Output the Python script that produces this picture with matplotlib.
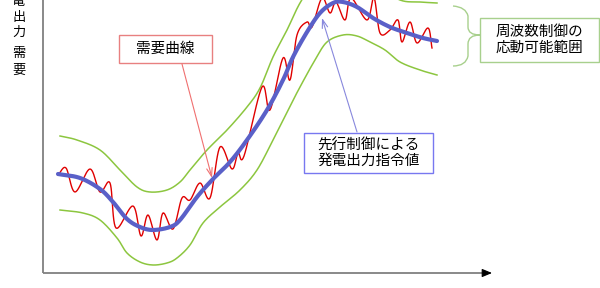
import numpy as np
import matplotlib
matplotlib.use("Agg")
import matplotlib.pyplot as plt
from matplotlib.patches import Rectangle, PathPatch
from matplotlib.path import Path

plt.rcParams['font.family'] = ['Noto Sans CJK JP', 'DejaVu Sans']

# ---- data (chart coordinates: x = time, y measured downward from top) ----
demand_x = [58, 66, 75, 90, 100, 110, 116, 133, 141, 148, 157, 163, 173, 182, 190,
            200, 210, 220, 232, 238, 244, 262, 270, 283, 290, 297, 307, 312, 322,
            330, 336, 345, 351, 367, 374, 380, 390, 398, 402, 410, 417, 428, 432]
demand_y = [175, 168, 192, 169, 192, 183, 228, 206, 236, 215, 240, 213, 229, 198, 200,
            183, 198, 147, 169, 153, 156, 87, 110, 58, 80, 35, 22, 27, -2,
            13, 2, 20, -2, 20, -2, 33, 30, 20, 42, 22, 43, 28, 48]

command_x = [58, 80, 100, 113, 127, 140, 153, 170, 180, 197, 213, 230, 247, 267,
             283, 293, 307, 320, 333, 343, 357, 373, 390, 407, 423, 437]
command_y = [174, 178, 189, 202, 219, 227, 230, 227, 220, 197, 179, 162, 140, 110,
             80, 57, 32, 13, 3, 2, 7, 18, 27, 33, 38, 41]

upper_x = [60, 77, 100, 120, 137, 150, 167, 180, 190, 207, 227, 247, 260, 273,
           287, 300, 315, 335, 355, 375, 400, 420, 437]
upper_y = [136, 140, 150, 170, 187, 192, 190, 182, 170, 150, 130, 107, 88, 57,
           30, 3, -18, -28, -27, -15, 0, 2, 3]

lower_x = [60, 83, 100, 117, 127, 140, 153, 167, 177, 190, 203, 220, 240, 257,
           273, 287, 300, 315, 327, 343, 357, 370, 385, 400, 420, 437]
lower_y = [210, 213, 220, 238, 253, 262, 265, 263, 258, 245, 223, 207, 190, 170,
           140, 112, 87, 60, 42, 35, 36, 42, 50, 62, 70, 75]

ylabel_chars = ['電', '出', '力', '需', '要']
demand_label = '需要曲線'
command_label = '先行制御による\n発電出力指令値'
range_label = '周波数制御の\n応動可能範囲'


def smooth(xs, ys, n=16):
    P = np.column_stack([xs, ys]).astype(float)
    P = np.vstack([2 * P[0] - P[1], P, 2 * P[-1] - P[-2]])
    out = []
    t = np.linspace(0, 1, n, endpoint=False)[:, None]
    for i in range(1, len(P) - 2):
        p0, p1, p2, p3 = P[i - 1], P[i], P[i + 1], P[i + 2]
        seg = 0.5 * ((2 * p1) + (-p0 + p2) * t + (2 * p0 - 5 * p1 + 4 * p2 - p3) * t ** 2
                     + (-p0 + 3 * p1 - 3 * p2 + p3) * t ** 3)
        out.append(seg)
    out.append(P[-2][None, :])
    out = np.vstack(out)
    return out[:, 0], out[:, 1]


fig = plt.figure(figsize=(6, 2.88), dpi=100)
ax = fig.add_axes([0, 0, 1, 1])
ax.set_xlim(0, 600)
ax.set_ylim(288, 0)
ax.axis('off')

# axes
ax.plot([43, 43], [0, 273], color='#808080', lw=1.3, solid_capstyle='butt')
ax.plot([43, 486], [273, 273], color='#808080', lw=1.3, solid_capstyle='butt')
ax.annotate('', xy=(492, 273), xytext=(484, 273),
            arrowprops=dict(arrowstyle='-|>,head_length=0.6,head_width=0.25',
                            color='black', lw=0.8, shrinkA=0, shrinkB=0))

# band
gx, gy = smooth(upper_x, upper_y)
ax.plot(gx, gy, color='#8cc63f', lw=1.1)
gx, gy = smooth(lower_x, lower_y)
ax.plot(gx, gy, color='#8cc63f', lw=1.1)

# demand
rx, ry = smooth(demand_x, demand_y, n=12)
ax.plot(rx, ry, color='#e00000', lw=1.0)

# command
bx, by = smooth(command_x, command_y)
ax.plot(bx, by, color='#5a60c8', lw=3.0, solid_capstyle='round')

# y label (vertical characters)
for ch, yc in zip(ylabel_chars, [2, 17, 32, 53, 70]):
    ax.text(19, yc, ch, fontsize=9.5, ha='center', va='center', color='black')

# demand label box
ax.add_patch(Rectangle((119, 35), 93, 28, fill=False, ec='#e88080', lw=1.0))
ax.text(165.5, 49, demand_label, fontsize=10.5, ha='center', va='center')
ax.annotate('', xy=(212, 178), xytext=(182, 64),
            arrowprops=dict(arrowstyle='->,head_length=0.6,head_width=0.2',
                            color='#f07070', lw=0.8, shrinkA=0, shrinkB=0))

# command label box
ax.add_patch(Rectangle((304, 133), 129, 40, fill=False, ec='#7878f0', lw=1.0))
ax.text(368.5, 153, command_label, fontsize=10.5, ha='center', va='center',
        linespacing=1.15)
ax.annotate('', xy=(322, 18), xytext=(357, 132),
            arrowprops=dict(arrowstyle='->,head_length=0.6,head_width=0.2',
                            color='#8888dd', lw=0.8, shrinkA=0, shrinkB=0))

# brace
verts = [(453, 6), (466, 7), (468, 16),
         (468, 27),
         (468, 35), (480, 35),
         (468, 35), (468, 44),
         (468, 56),
         (466, 66), (453, 66)]
codes = [Path.MOVETO, Path.CURVE3, Path.CURVE3,
         Path.LINETO,
         Path.CURVE3, Path.CURVE3,
         Path.CURVE3, Path.CURVE3,
         Path.LINETO,
         Path.CURVE3, Path.CURVE3]
ax.add_patch(PathPatch(Path(verts, codes), fill=False, ec='#a8d08d', lw=1.0))

# range label box
ax.add_patch(Rectangle((480, 18), 119, 44, fill=False, ec='#a8d08d', lw=1.0))
ax.text(539.5, 40, range_label, fontsize=10.5, ha='center', va='center',
        linespacing=1.15)

fig.savefig('out.png', dpi=100)
